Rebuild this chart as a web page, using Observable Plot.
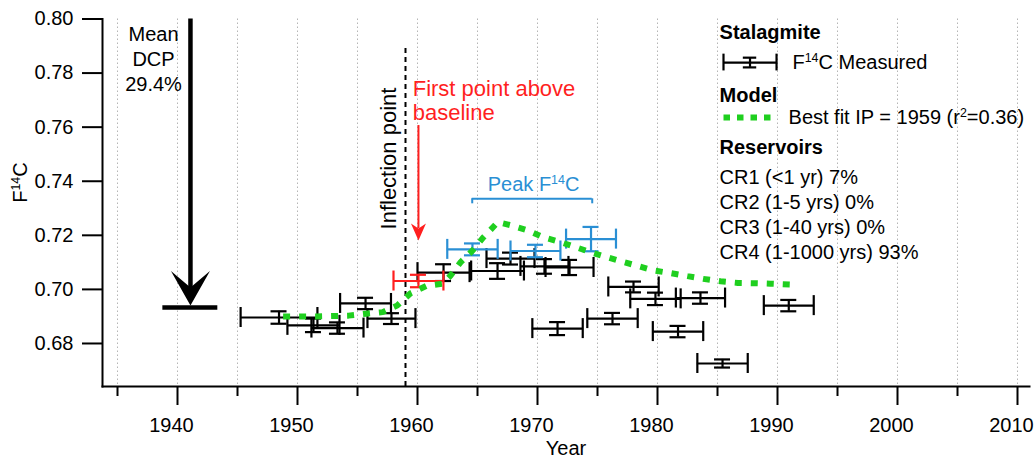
<!DOCTYPE html>
<html><head><meta charset="utf-8">
<script src="https://cdn.jsdelivr.net/npm/d3@7"></script>
<script src="https://cdn.jsdelivr.net/npm/@observablehq/plot@0.6"></script>
<style>html,body{margin:0;padding:0;background:#fff;} #chart svg{display:block;}</style>
</head><body><div id="chart"></div>
<script>
// ---- Stalagmite F14C measurements (black) ----
const blackYear = [1948.46, 1951.33, 1953.33, 1955.67, 1957.83, 1962.17, 1966.67, 1967.75, 1970.58, 1971.67, 1972.67, 1976.25, 1978.0, 1979.83, 1981.71, 1983.58, 1985.42, 1990.94];
const blackYearErr = [3.2, 2.17, 2.17, 2.12, 2.0, 2.17, 2.2, 2.0, 2.0, 2.1, 2.0, 2.1, 2.1, 2.1, 2.1, 2.05, 2.1, 2.08];
const blackF = [0.6896, 0.6867, 0.6857, 0.6948, 0.6892, 0.7062, 0.7068, 0.7114, 0.7085, 0.6855, 0.7081, 0.6892, 0.7009, 0.6965, 0.6844, 0.6968, 0.6726, 0.6940];
const blackFErr = [0.0023, 0.0025, 0.0021, 0.0021, 0.0020, 0.0031, 0.0029, 0.0022, 0.0027, 0.0024, 0.0028, 0.0021, 0.0020, 0.0023, 0.0021, 0.0021, 0.0015, 0.0021];
// first point above baseline (red)
const redYear = [1960.08];
const redYearErr = [2.08];
const redF = [0.7031];
const redFErr = [0.0023];
// peak F14C points (blue)
const blueYear = [1964.58, 1969.83, 1974.46];
const blueYearErr = [2.1, 2.08, 2.08];
const blueF = [0.7148, 0.7142, 0.7186];
const blueFErr = [0.0022, 0.0023, 0.0045];
// ---- Model best fit ----
const modelYear = [1948.8, 1951.6, 1954.25, 1955.7, 1957.1, 1958.3, 1959.4, 1960.8, 1962.1, 1962.75, 1963.6, 1964.6, 1965.5, 1966.7, 1967.9, 1969.2, 1970.5, 1971.9, 1973.2, 1974.4, 1975.8, 1977.2, 1979.7, 1981.1, 1982.5, 1983.8, 1985.25, 1986.7, 1988.0, 1989.4, 1991.1];
const modelF = [0.6900, 0.6900, 0.6903, 0.6910, 0.6916, 0.6940, 0.6985, 0.7014, 0.7021, 0.7051, 0.7101, 0.7144, 0.7193, 0.7249, 0.7236, 0.7218, 0.7193, 0.7175, 0.7156, 0.7138, 0.7119, 0.7101, 0.7070, 0.7060, 0.7049, 0.7039, 0.7030, 0.7024, 0.7023, 0.7021, 0.7018];
// ---- Annotations ----
const meanDCP = 0.6933;        // mean dead carbon level
const meanDCPYear = 1941.08;
const inflectionYear = 1959;
const peakRange = [1964.56, 1974.56];
// ---- Ticks ----
const xMajor = [1940, 1950, 1960, 1970, 1980, 1990, 2000, 2010];
const xMinor = [1935, 1945, 1955, 1965, 1975, 1985, 1995, 2005];
const xGrid = [1935, 1940, 1945, 1950, 1955, 1960, 1965, 1970, 1975, 1980, 1985, 1990, 1995, 2000, 2005, 2010];
const yTicks = [0.68, 0.70, 0.72, 0.74, 0.76, 0.78, 0.80];
const legendHeads = ["Stalagmite", "Model", "Reservoirs"];
const legendLines = ["CR1 (<1 yr) 7%", "CR2 (1-5 yrs) 0%", "CR3 (1-40 yrs) 0%", "CR4 (1-1000 yrs) 93%"];

const BLACK = "#000", RED = "#ff1f1f", BLUE = "#2a8fd4", GREEN = "#1fcf1f";

const toRows = (ys, yes, fs, fes) => ys.map((y, i) => ({year: y, xe: yes[i], f: fs[i], fe: fes[i]}));
const blackRows = toRows(blackYear, blackYearErr, blackF, blackFErr);
const redRows = toRows(redYear, redYearErr, redF, redFErr);
const blueRows = toRows(blueYear, blueYearErr, blueF, blueFErr);
const modelRows = modelYear.map((y, i) => ({year: y, f: modelF[i]}));

function errorBars(data, color, endCap = 10, midCap = 8) {
  const c = {stroke: color, strokeWidth: 2.2};
  return [
    Plot.ruleY(data, {y: "f", x1: d => d.year - d.xe, x2: d => d.year + d.xe, ...c}),
    Plot.ruleX(data, {x: d => d.year - d.xe, y1: "f", y2: "f", insetTop: -endCap, insetBottom: -endCap, ...c}),
    Plot.ruleX(data, {x: d => d.year + d.xe, y1: "f", y2: "f", insetTop: -endCap, insetBottom: -endCap, ...c}),
    Plot.ruleX(data, {x: "year", y1: d => d.f - d.fe, y2: d => d.f + d.fe, ...c}),
    Plot.ruleY(data, {y: d => d.f - d.fe, x1: "year", x2: "year", insetLeft: -midCap, insetRight: -midCap, ...c}),
    Plot.ruleY(data, {y: d => d.f + d.fe, x1: "year", x2: "year", insetLeft: -midCap, insetRight: -midCap, ...c})
  ];
}

const bigHead = {draw(ctx) { ctx.moveTo(0, 0); ctx.lineTo(-19.5, -34.5); ctx.lineTo(0, -18); ctx.lineTo(19.5, -34.5); ctx.closePath(); }};
const smallHead = {draw(ctx) { ctx.moveTo(0, 0); ctx.lineTo(-7.5, -17); ctx.lineTo(0, -12); ctx.lineTo(7.5, -17); ctx.closePath(); }};

// legend (positions in chart space)
const legendX = 1985.17;
const legendSwatch = [{year: 1987.71, xe: 2.21, f: 0.7839, fe: 0.0018}];
const legendModel = [{year: 1985.5, f: 0.7636}, {year: 1990.0, f: 0.7636}];
const legendHeadY = [0.7950, 0.7715, 0.7523];
const legendItems = [
  {x: 1991.25, y: 0.7839, t: "F^{14}C Measured"},
  {x: 1990.92, y: 0.7636, t: "Best fit IP = 1959 (r^{2}=0.36)"},
  ...legendLines.map((t, i) => ({x: legendX, y: 0.7414 - i * 0.00925, t}))
];

const chart = Plot.plot({
  width: 1035,
  height: 459,
  marginLeft: 102,
  marginRight: 6,
  marginTop: 18.5,
  marginBottom: 73,
  x: {domain: [1933.75, 2011]},
  y: {domain: [0.66409, 0.80]},
  style: {fontFamily: "'Liberation Sans', Arial, Helvetica, sans-serif", fontSize: "20px", color: "black", background: "white"},
  marks: [
    Plot.gridX({ticks: xGrid, stroke: "#b5b5b5", strokeOpacity: 1, strokeWidth: 1, strokeDasharray: "1.5,2.5"}),
    Plot.frame({anchor: "bottom", strokeWidth: 2}),
    Plot.frame({anchor: "left", strokeWidth: 2}),
    Plot.axisX({ticks: xMajor, tickSize: 19, tickFormat: () => "", strokeWidth: 2, label: null}),
    Plot.axisX({ticks: xMajor, tickSize: 19, tickPadding: 12, stroke: "none", dx: -6, tickFormat: "d", fontSize: 20, label: null}),
    Plot.axisX({ticks: xMinor, tickSize: 10, tickFormat: () => "", strokeWidth: 2, label: null}),
    Plot.axisY({ticks: yTicks, tickSize: 20, tickPadding: 9, tickFormat: ".2f", fontSize: 20, strokeWidth: 2, label: null}),
    Plot.text(["Year"], {x: 1972.375, y: 0.6412, text: d => d, fontSize: 20}),
    Plot.text(["F^{14}C"], {x: 1926.9, y: 0.7395, text: d => d, rotate: -90, fontSize: 20}),
    // mean DCP arrow
    Plot.ruleX([meanDCPYear], {x: d => d, y1: 0.80, y2: 0.6996, strokeWidth: 4.5}),
    Plot.dot([meanDCPYear], {x: d => d, y: 0.6940, symbol: bigHead, fill: BLACK, stroke: "none", r: 5}),
    Plot.ruleY([meanDCP], {y: d => d, x1: 1938.78, x2: 1943.36, strokeWidth: 4.5}),
    Plot.text(["Mean\nDCP\n29.4%"], {x: 1938.0, y: 0.7854, text: d => d, fontSize: 20, lineHeight: 1.25}),
    // inflection point
    Plot.ruleX([inflectionYear], {x: d => d, y1: 0.66409, y2: 0.7895, strokeWidth: 2, strokeDasharray: "5,4"}),
    Plot.text(["Inflection point"], {x: 1957.6, y: 0.7484, text: d => d, rotate: -90, fontSize: 22}),
    // first point above baseline
    Plot.text(["First point above\nbaseline"], {x: 1959.6, y: 0.7699, text: d => d, fill: RED, textAnchor: "start", fontSize: 22, lineHeight: 1.09}),
    Plot.ruleX(redRows, {x: "year", y1: 0.7606, y2: 0.7225, stroke: RED, strokeWidth: 2}),
    Plot.dot(redRows, {x: "year", y: 0.7181, symbol: smallHead, fill: RED, stroke: "none", r: 5}),
    // peak bracket
    Plot.ruleY([peakRange], {x1: d => d[0], x2: d => d[1], y: 0.7335, stroke: BLUE, strokeWidth: 2}),
    Plot.ruleX(peakRange, {x: d => d, y1: 0.7335, y2: 0.7335, insetBottom: -5, stroke: BLUE, strokeWidth: 2}),
    Plot.text(["Peak F^{14}C"], {x: 1969.67, y: 0.7388, text: d => d, fill: BLUE, fontSize: 20}),
    // data
    ...errorBars(blackRows, BLACK),
    ...errorBars(redRows, RED),
    ...errorBars(blueRows, BLUE),
    Plot.line(modelRows, {x: "year", y: "f", stroke: GREEN, strokeWidth: 6, strokeDasharray: "7,9", strokeLinecap: "butt", strokeLinejoin: "miter"}),
    // legend
    ...errorBars(legendSwatch, BLACK, 8.4, 6.7),
    Plot.line(legendModel, {x: "year", y: "f", stroke: GREEN, strokeWidth: 6, strokeDasharray: "6.5,7", strokeLinecap: "butt"}),
    Plot.text(legendHeads, {x: legendX, y: (d, i) => legendHeadY[i], text: d => d, fontWeight: "bold", textAnchor: "start", fontSize: 20}),
    Plot.text(legendItems, {x: "x", y: "y", text: "t", textAnchor: "start", fontSize: 20})
  ]
});

// superscripts: ^{...}
chart.querySelectorAll("text, tspan").forEach(el => {
  if (el.children.length) return;
  const t = el.textContent;
  if (!t.includes("^{")) return;
  el.textContent = "";
  t.split(/\^\{([^}]*)\}/).forEach((p, i) => {
    if (!p) return;
    const ts = document.createElementNS("http://www.w3.org/2000/svg", "tspan");
    ts.textContent = p;
    if (i % 2 === 1) { ts.setAttribute("baseline-shift", "super"); ts.setAttribute("font-size", "62%"); }
    el.appendChild(ts);
  });
});

document.getElementById("chart").appendChild(chart);
</script></body></html>
